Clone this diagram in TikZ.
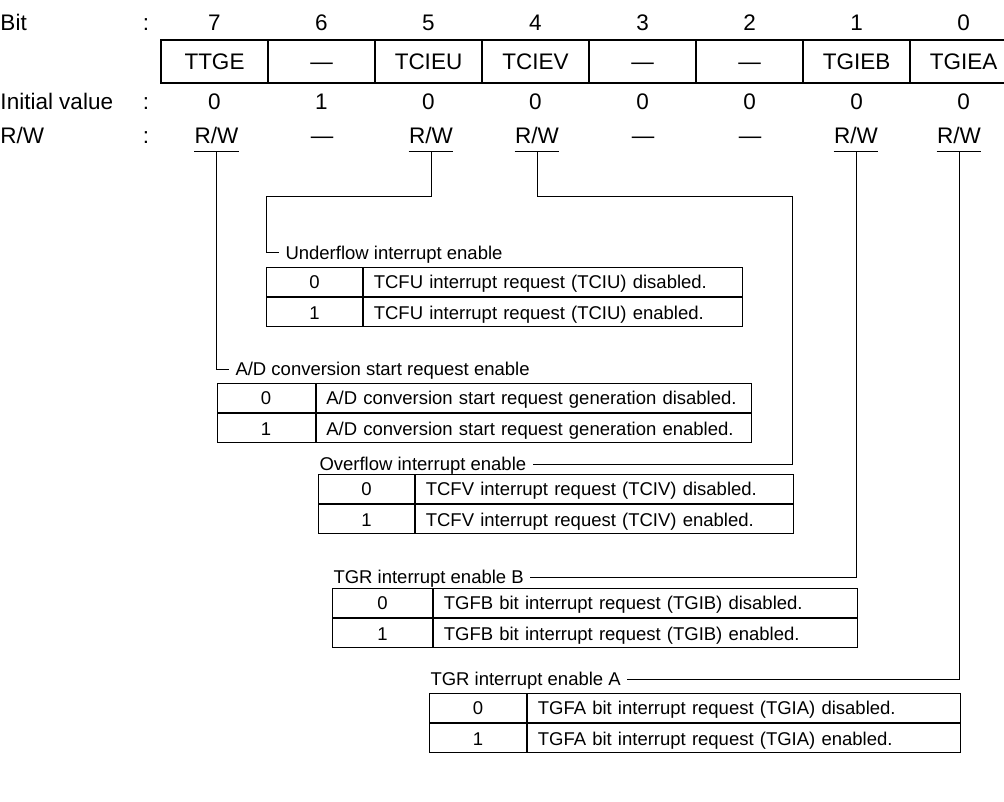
\documentclass[tikz,border=0pt]{standalone}
\usepackage{fontspec}
\setmainfont{Liberation Sans}
\begin{document}
\begin{tikzpicture}[
	x=1pt, y=-1pt,
	line width=1pt,
	lbl/.style={ inner sep=0pt, font=\fontsize{22.5}{27}\selectfont, text height=16.2pt, text depth=0pt },
	rwlbl/.style={ lbl, anchor=base, inner ysep=7pt },
	regcell/.style={ draw, line width=1.2pt, minimum width=107pt, minimum height=43pt, inner sep=0pt, font=\fontsize{22.5}{27}\selectfont, text height=16.2pt, text depth=0pt },
	keylbl/.style={ inner xsep=6pt, inner ysep=0pt, font=\fontsize{18.5}{22}\selectfont, text height=13.5pt, text depth=0pt },
	keycell/.style={ draw, line width=1.2pt, anchor=north west, minimum height=29pt, inner sep=0pt, font=\fontsize{18.5}{22}\selectfont, text height=13.5pt, text depth=0pt },
	desccell/.style={ keycell, inner xsep=10pt, align=left }
]
\useasboundingbox (0,0) rectangle (1004,802);

% register layout
\node at (0,30.5) (bitlbl) [lbl,anchor=base west] {Bit};
\node at (0,109.5) (initlbl) [lbl,anchor=base west] {Initial value};
\node at (0,144) (rwhead) [lbl,anchor=base west] {R/W};
\foreach \y/\n in {30.5/c1,109.5/c2,144/c3} \node at (146,\y) (\n) [lbl,anchor=base] {:};

\foreach \b [count=\i from 0] in {7,6,5,4,3,2,1,0}
	\node at (214.5+107*\i,30.5) (num\b) [lbl,anchor=base] {\b};
\foreach \nm [count=\i from 0] in {TTGE,—,TCIEU,TCIEV,—,—,TGIEB,TGIEA}
	\node at (214.5+107*\i,61.5) (reg\i) [regcell] {\nm};
\foreach \v [count=\i from 0] in {0,1,0,0,0,0,0,0}
	\node at (214.5+107*\i,109.5) (init\i) [lbl,anchor=base] {\v};

\node at (216.5,144) (rw7) [rwlbl] {R/W};
\node at (322,144) (rw6) [rwlbl] {—};
\node at (431,144) (rw5) [rwlbl] {R/W};
\node at (537,144) (rw4) [rwlbl] {R/W};
\node at (643,144) (rw3) [rwlbl] {—};
\node at (750,144) (rw2) [rwlbl] {—};
\node at (856,144) (rw1) [rwlbl] {R/W};
\node at (959,144) (rw0) [rwlbl] {R/W};
\foreach \p in {rw7,rw5,rw4,rw1,rw0} \draw (\p.south west) -- (\p.south east);

% underflow
\node at (279,253) (uflbl) [keylbl,anchor=west] {Underflow interrupt enable};
\node at (266,267) (uf0) [keycell,minimum width=96pt] {0};
\node at (uf0.north east) (uf0t) [desccell,text width=359pt] {TCFU interrupt request (TCIU) disabled.};
\node at (uf0.south west) (uf1) [keycell,minimum width=96pt] {1};
\node at (uf1.north east) (uf1t) [desccell,text width=359pt] {TCFU interrupt request (TCIU) enabled.};

% A/D start
\node at (229,369) (adlbl) [keylbl,anchor=west] {A/D conversion start request enable};
\node at (216.5,383) (ad0) [keycell,minimum width=98pt] {0};
\node at (ad0.north east) (ad0t) [desccell,text width=415pt] {A/D conversion start request generation disabled.};
\node at (ad0.south west) (ad1) [keycell,minimum width=98pt] {1};
\node at (ad1.north east) (ad1t) [desccell,text width=415pt] {A/D conversion start request generation enabled.};

% overflow
\node at (313,464) (ovlbl) [keylbl,anchor=west] {Overflow interrupt enable};
\node at (318,474) (ov0) [keycell,minimum width=96pt] {0};
\node at (ov0.north east) (ov0t) [desccell,text width=358pt] {TCFV interrupt request (TCIV) disabled.};
\node at (ov0.south west) (ov1) [keycell,minimum width=96pt] {1};
\node at (ov1.north east) (ov1t) [desccell,text width=358pt] {TCFV interrupt request (TCIV) enabled.};

% TGR B
\node at (327,577) (tblbl) [keylbl,anchor=west] {TGR interrupt enable B};
\node at (332,588) (tb0) [keycell,minimum width=100pt] {0};
\node at (tb0.north east) (tb0t) [desccell,text width=404pt] {TGFB bit interrupt request (TGIB) disabled.};
\node at (tb0.south west) (tb1) [keycell,minimum width=100pt] {1};
\node at (tb1.north east) (tb1t) [desccell,text width=404pt] {TGFB bit interrupt request (TGIB) enabled.};

% TGR A
\node at (424,679) (talbl) [keylbl,anchor=west] {TGR interrupt enable A};
\node at (429,693) (ta0) [keycell,minimum width=97pt] {0};
\node at (ta0.north east) (ta0t) [desccell,text width=413pt] {TGFA bit interrupt request (TGIA) disabled.};
\node at (ta0.south west) (ta1) [keycell,minimum width=97pt] {1};
\node at (ta1.north east) (ta1t) [desccell,text width=413pt] {TGFA bit interrupt request (TGIA) enabled.};

% connectors
\coordinate (ufbend) at (266,197);
\coordinate (ovbend) at (792,197);
\draw (rw7.south) |- (adlbl.west);
\draw (rw5.south) |- (ufbend) |- (uflbl.west);
\draw (rw4.south) |- (ovbend) |- (ovlbl.east);
\draw (rw1.south) |- (tblbl.east);
\draw (rw0.south) |- (talbl.east);

\end{tikzpicture}
\end{document}
